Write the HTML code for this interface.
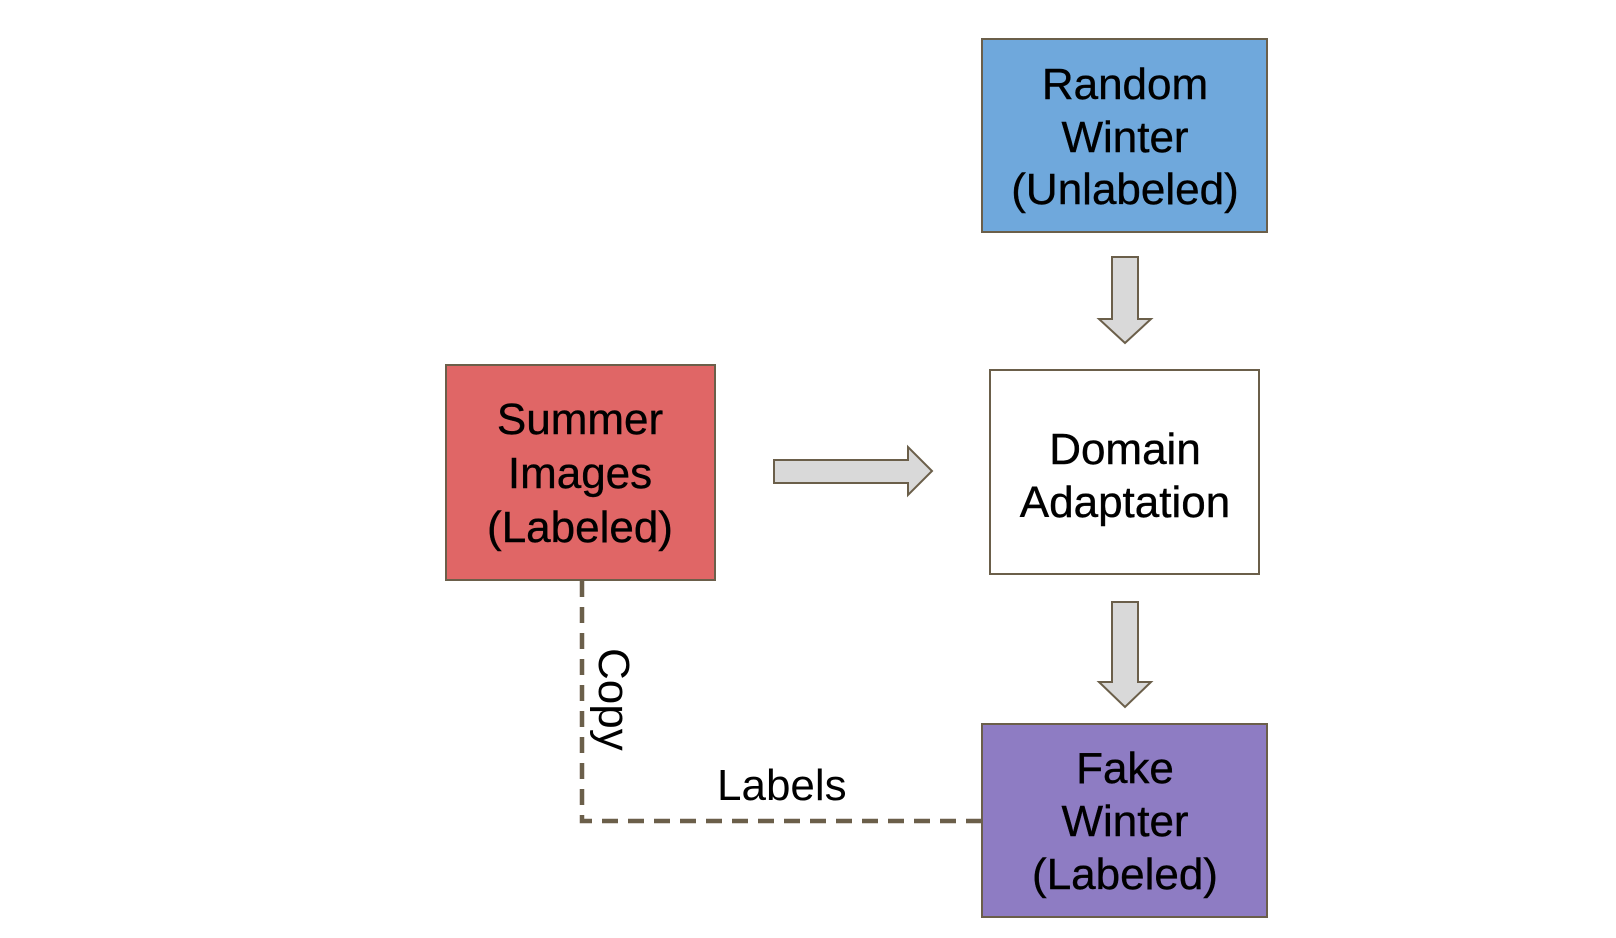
<!DOCTYPE html>
<html><head><style>
html,body{margin:0;padding:0;background:#fff;}
svg{display:block;}
.b{font-family:"Liberation Sans",Arial,sans-serif;font-size:44px;fill:#000;text-anchor:middle;stroke:#000;stroke-width:0.4px;}
.c{font-family:"Liberation Sans",Arial,sans-serif;font-size:44px;fill:#000;}
</style></head><body>
<svg width="1616" height="938" viewBox="0 0 1616 938" xmlns="http://www.w3.org/2000/svg">
<rect x="0" y="0" width="1616" height="938" fill="#fff"/>
<g stroke="#6b5f4a" stroke-width="2">
<rect x="982" y="39" width="285" height="193" fill="#6fa8dc"/>
<rect x="990" y="370" width="269" height="204" fill="#fff"/>
<rect x="982" y="724" width="285" height="193" fill="#8e7cc3"/>
<rect x="446" y="365" width="269" height="215" fill="#e06666"/>
<polygon points="1112,257 1138,257 1138,319 1151,319 1125,343 1099,319 1112,319" fill="#d9d9d9"/>
<polygon points="1112,602 1138,602 1138,682 1151,682 1125,707 1099,682 1112,682" fill="#d9d9d9"/>
<polygon points="774,460 908,460 908,447 932,471 908,495 908,483 774,483" fill="#d9d9d9"/>
</g>
<path d="M582,581 L582,821 L982,821" fill="none" stroke="#6b5f4a" stroke-width="4.5" stroke-dasharray="16,10"/>
<text class="b" x="1125" y="99">Random</text>
<text class="b" x="1125" y="152">Winter</text>
<text class="b" x="1125" y="204">(Unlabeled)</text>
<text class="b" x="1125" y="464">Domain</text>
<text class="b" x="1125" y="517">Adaptation</text>
<text class="b" x="1125" y="783">Fake</text>
<text class="b" x="1125" y="836">Winter</text>
<text class="b" x="1125" y="889">(Labeled)</text>
<text class="b" x="580" y="434">Summer</text>
<text class="b" x="580" y="488">Images</text>
<text class="b" x="580" y="542">(Labeled)</text>
<text class="c" x="717" y="800">Labels</text>
<text class="c" transform="translate(599,648) rotate(90)" x="0" y="0">Copy</text>
</svg>
</body></html>
